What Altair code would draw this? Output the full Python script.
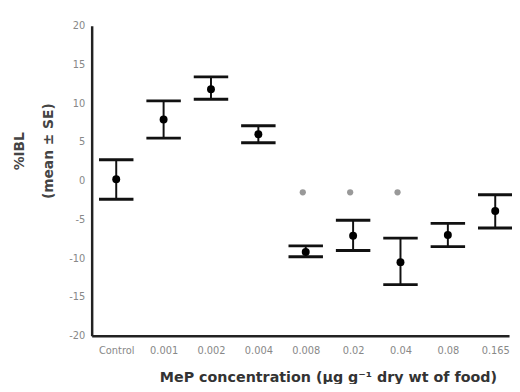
import altair as alt
import pandas as pd

categories = ["Control", "0.001", "0.002", "0.004", "0.008", "0.02", "0.04", "0.08", "0.165"]
means = [0.2, 7.9, 11.8, 6.0, -9.2, -7.1, -10.5, -7.0, -3.9]
upper = [2.7, 10.3, 13.4, 7.1, -8.4, -5.1, -7.4, -5.5, -1.8]
lower = [-2.4, 5.5, 10.5, 4.9, -9.8, -9.0, -13.4, -8.5, -6.1]
sig_categories = ["0.008", "0.02", "0.04"]
sig_y = [-1.5, -1.5, -1.5]
y_ticks = [-20, -15, -10, -5, 0, 5, 10, 15, 20]

df = pd.DataFrame({"cat": categories, "mean": means, "upper": upper, "lower": lower})
sig = pd.DataFrame({"cat": sig_categories, "y": sig_y})

FONT = "DejaVu Sans"

xscale = alt.Scale(type="point", domain=categories, padding=0.405, align=0.64)
yscale = alt.Scale(domain=[-20, 20], nice=False, zero=False)

xaxis = alt.Axis(
    title="MeP concentration (μg g⁻¹ dry wt of food)",
    labelAngle=0, labelFontSize=10, labelColor="#888", labelFont=FONT,
    labelPadding=10, ticks=False, domainColor="#222", domainWidth=2.5,
    labelOverlap=False,
    titleFont=FONT, titleFontSize=14.5, titleFontWeight="bold", titleColor="#333",
    titleX=240, titleY=42, titleBaseline="middle", titleAnchor="middle",
    grid=False,
)
yaxis = alt.Axis(
    title=["%IBL", "(mean ± SE)"], values=y_ticks, labelOverlap=False,
    tickCount=9, labelExpr="replace(format(datum.value, 'd'), '−', '-')",
    labelFontSize=10, labelColor="#888", labelFont=FONT, labelPadding=7,
    ticks=False, domainColor="#222", domainWidth=2.5,
    titleFont=FONT, titleFontSize=14, titleFontWeight="bold", titleColor="#444",
    titleX=-73, titleY=127, titleBaseline="middle", titleAngle=-90,
    titleLineHeight=29, titleAnchor="middle", grid=False,
)

X = alt.X("cat:N", scale=xscale, axis=xaxis, sort=categories)

base = alt.Chart(df)
rules = base.mark_rule(color="#111", strokeWidth=2).encode(
    x=X,
    y=alt.Y("lower:Q", scale=yscale, axis=yaxis),
    y2="upper:Q",
)
cap_hi = base.mark_tick(color="#111", size=35, thickness=3, opacity=1).encode(
    x=X, y=alt.Y("upper:Q", scale=yscale, axis=yaxis)
)
cap_lo = base.mark_tick(color="#111", size=35, thickness=3, opacity=1).encode(
    x=X, y=alt.Y("lower:Q", scale=yscale, axis=yaxis)
)
pts = base.mark_point(filled=True, color="#000", size=65, opacity=1).encode(
    x=X, y=alt.Y("mean:Q", scale=yscale, axis=yaxis)
)
stars = alt.Chart(sig).mark_point(filled=True, color="#999", size=40, opacity=1, xOffset=-3).encode(
    x=X, y=alt.Y("y:Q", scale=yscale, axis=yaxis)
)

chart = alt.layer(rules, cap_hi, cap_lo, pts, stars).properties(
    width=424, height=315,
    background="white",
    autosize=alt.AutoSizeParams(type="none"),
    padding={"left": 85, "top": 15, "right": 3, "bottom": 46},
).configure_view(stroke=None)

chart.save("out.html", embed_options={"renderer": "svg", "actions": False})
